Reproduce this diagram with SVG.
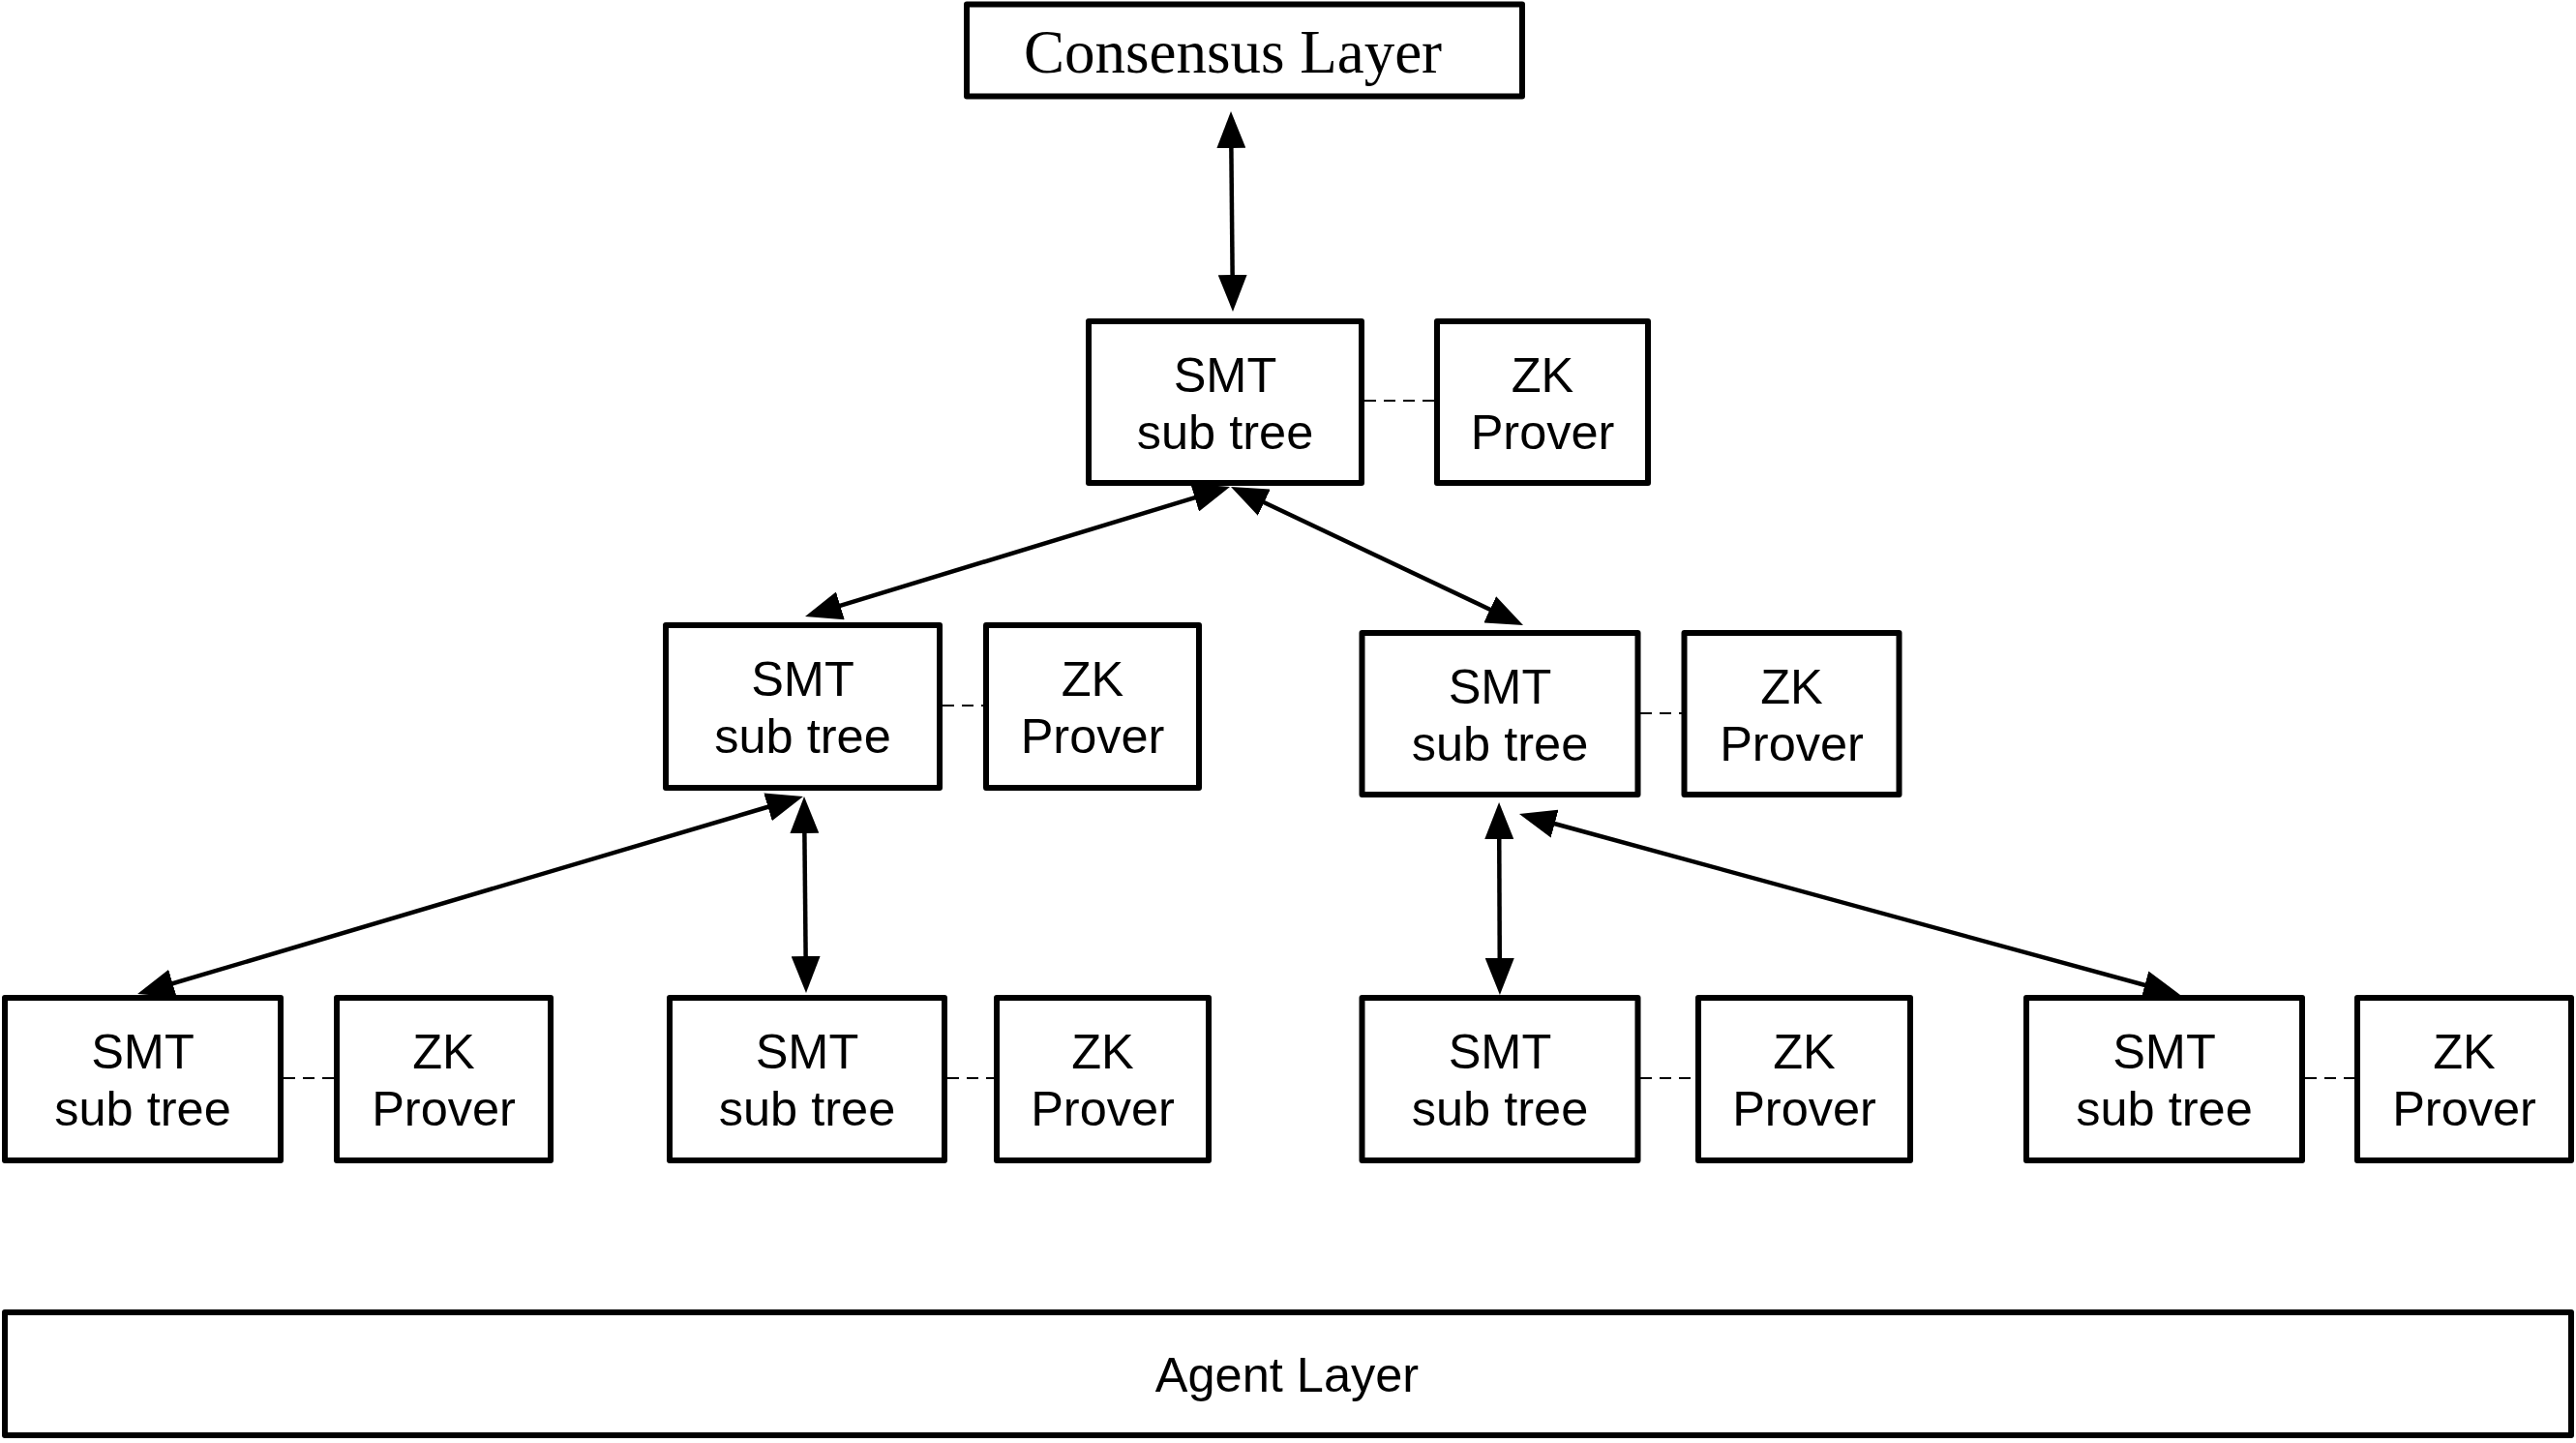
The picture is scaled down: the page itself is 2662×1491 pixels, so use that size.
<svg xmlns="http://www.w3.org/2000/svg" width="2662" height="1491" viewBox="0 0 2662 1491">
  <style>
    .box { fill: #ffffff; stroke: #000000; stroke-width: 6; stroke-linejoin: round; }
    .lbl { font-family: "Liberation Sans", Arial, Helvetica, sans-serif; font-size: 50.5px; fill: #000000; text-anchor: middle; }
    .serif { font-family: "Liberation Serif", "Times New Roman", serif; font-size: 63px; fill: #000000; text-anchor: middle; }
    .arrow { fill: none; stroke: #000000; stroke-width: 4.5; marker-start: url(#ah); marker-end: url(#ah); }
    .dash { fill: none; stroke: #000000; stroke-width: 2; stroke-dasharray: 12 8; }
  </style>
  <defs>
    <marker id="ah" markerUnits="userSpaceOnUse" markerWidth="38" markerHeight="30" refX="8" refY="15" orient="auto-start-reverse" viewBox="0 0 38 30">
      <path d="M0,0 L38,15 L0,30 Z" fill="#000000"/>
    </marker>
  </defs>
  <rect width="2662" height="1491" fill="#ffffff"/>

  <g id="consensus">
    <rect class="box" x="999" y="4.5" width="574" height="95"/>
    <text class="serif" x="1274" y="75">Consensus Layer</text>
  </g>

  <g id="smt-top">
    <rect class="box" x="1125" y="332" width="282" height="167"/>
    <text class="lbl" x="1266" y="405">SMT</text>
    <text class="lbl" x="1266" y="464">sub tree</text>
  </g>
  <g id="zk-top">
    <rect class="box" x="1485" y="332" width="218" height="167"/>
    <text class="lbl" x="1594" y="405">ZK</text>
    <text class="lbl" x="1594" y="464">Prover</text>
  </g>

  <g id="smt-mid-left">
    <rect class="box" x="688" y="646" width="283" height="168"/>
    <text class="lbl" x="829.5" y="719">SMT</text>
    <text class="lbl" x="829.5" y="778">sub tree</text>
  </g>
  <g id="zk-mid-left">
    <rect class="box" x="1019" y="646" width="220" height="168"/>
    <text class="lbl" x="1129" y="719">ZK</text>
    <text class="lbl" x="1129" y="778">Prover</text>
  </g>

  <g id="smt-mid-right">
    <rect class="box" x="1407.5" y="654" width="285" height="167"/>
    <text class="lbl" x="1550" y="727">SMT</text>
    <text class="lbl" x="1550" y="786">sub tree</text>
  </g>
  <g id="zk-mid-right">
    <rect class="box" x="1740.5" y="654" width="222" height="167"/>
    <text class="lbl" x="1851.5" y="727">ZK</text>
    <text class="lbl" x="1851.5" y="786">Prover</text>
  </g>

  <g id="smt-b1">
    <rect class="box" x="5" y="1031" width="285" height="168"/>
    <text class="lbl" x="147.5" y="1104">SMT</text>
    <text class="lbl" x="147.5" y="1163">sub tree</text>
  </g>
  <g id="zk-b1">
    <rect class="box" x="348" y="1031" width="221" height="168"/>
    <text class="lbl" x="458.5" y="1104">ZK</text>
    <text class="lbl" x="458.5" y="1163">Prover</text>
  </g>

  <g id="smt-b2">
    <rect class="box" x="692" y="1031" width="284" height="168"/>
    <text class="lbl" x="834" y="1104">SMT</text>
    <text class="lbl" x="834" y="1163">sub tree</text>
  </g>
  <g id="zk-b2">
    <rect class="box" x="1030" y="1031" width="219" height="168"/>
    <text class="lbl" x="1139.5" y="1104">ZK</text>
    <text class="lbl" x="1139.5" y="1163">Prover</text>
  </g>

  <g id="smt-b3">
    <rect class="box" x="1407.5" y="1031" width="285" height="168"/>
    <text class="lbl" x="1550" y="1104">SMT</text>
    <text class="lbl" x="1550" y="1163">sub tree</text>
  </g>
  <g id="zk-b3">
    <rect class="box" x="1755" y="1031" width="219" height="168"/>
    <text class="lbl" x="1864.5" y="1104">ZK</text>
    <text class="lbl" x="1864.5" y="1163">Prover</text>
  </g>

  <g id="smt-b4">
    <rect class="box" x="2094" y="1031" width="285" height="168"/>
    <text class="lbl" x="2236.5" y="1104">SMT</text>
    <text class="lbl" x="2236.5" y="1163">sub tree</text>
  </g>
  <g id="zk-b4">
    <rect class="box" x="2436" y="1031" width="221" height="168"/>
    <text class="lbl" x="2546.5" y="1104">ZK</text>
    <text class="lbl" x="2546.5" y="1163">Prover</text>
  </g>

  <g id="agent">
    <rect class="box" x="5" y="1356" width="2652" height="127"/>
    <text class="lbl" x="1330" y="1438">Agent Layer</text>
  </g>

  <g id="connectors">
    <line class="arrow" x1="1272.3" y1="145" x2="1273.7" y2="292"/>
    <line class="arrow" x1="1242.3" y1="511.8" x2="860.7" y2="628.2"/>
    <line class="arrow" x1="1299.1" y1="515.8" x2="1546.9" y2="633.2"/>
    <line class="arrow" x1="801.2" y1="831.5" x2="170.8" y2="1018.5"/>
    <line class="arrow" x1="831.3" y1="853" x2="832.7" y2="996"/>
    <line class="arrow" x1="1549.2" y1="859" x2="1549.8" y2="998"/>
    <line class="arrow" x1="1598.9" y1="849" x2="2224.1" y2="1020"/>
    <line class="dash" x1="1410" y1="414" x2="1482" y2="414"/>
    <line class="dash" x1="974" y1="729" x2="1016" y2="729"/>
    <line class="dash" x1="1695" y1="737" x2="1738" y2="737"/>
    <line class="dash" x1="293" y1="1114" x2="345" y2="1114"/>
    <line class="dash" x1="979" y1="1114" x2="1027" y2="1114"/>
    <line class="dash" x1="1695" y1="1114" x2="1752" y2="1114"/>
    <line class="dash" x1="2382" y1="1114" x2="2433" y2="1114"/>
  </g>
</svg>
